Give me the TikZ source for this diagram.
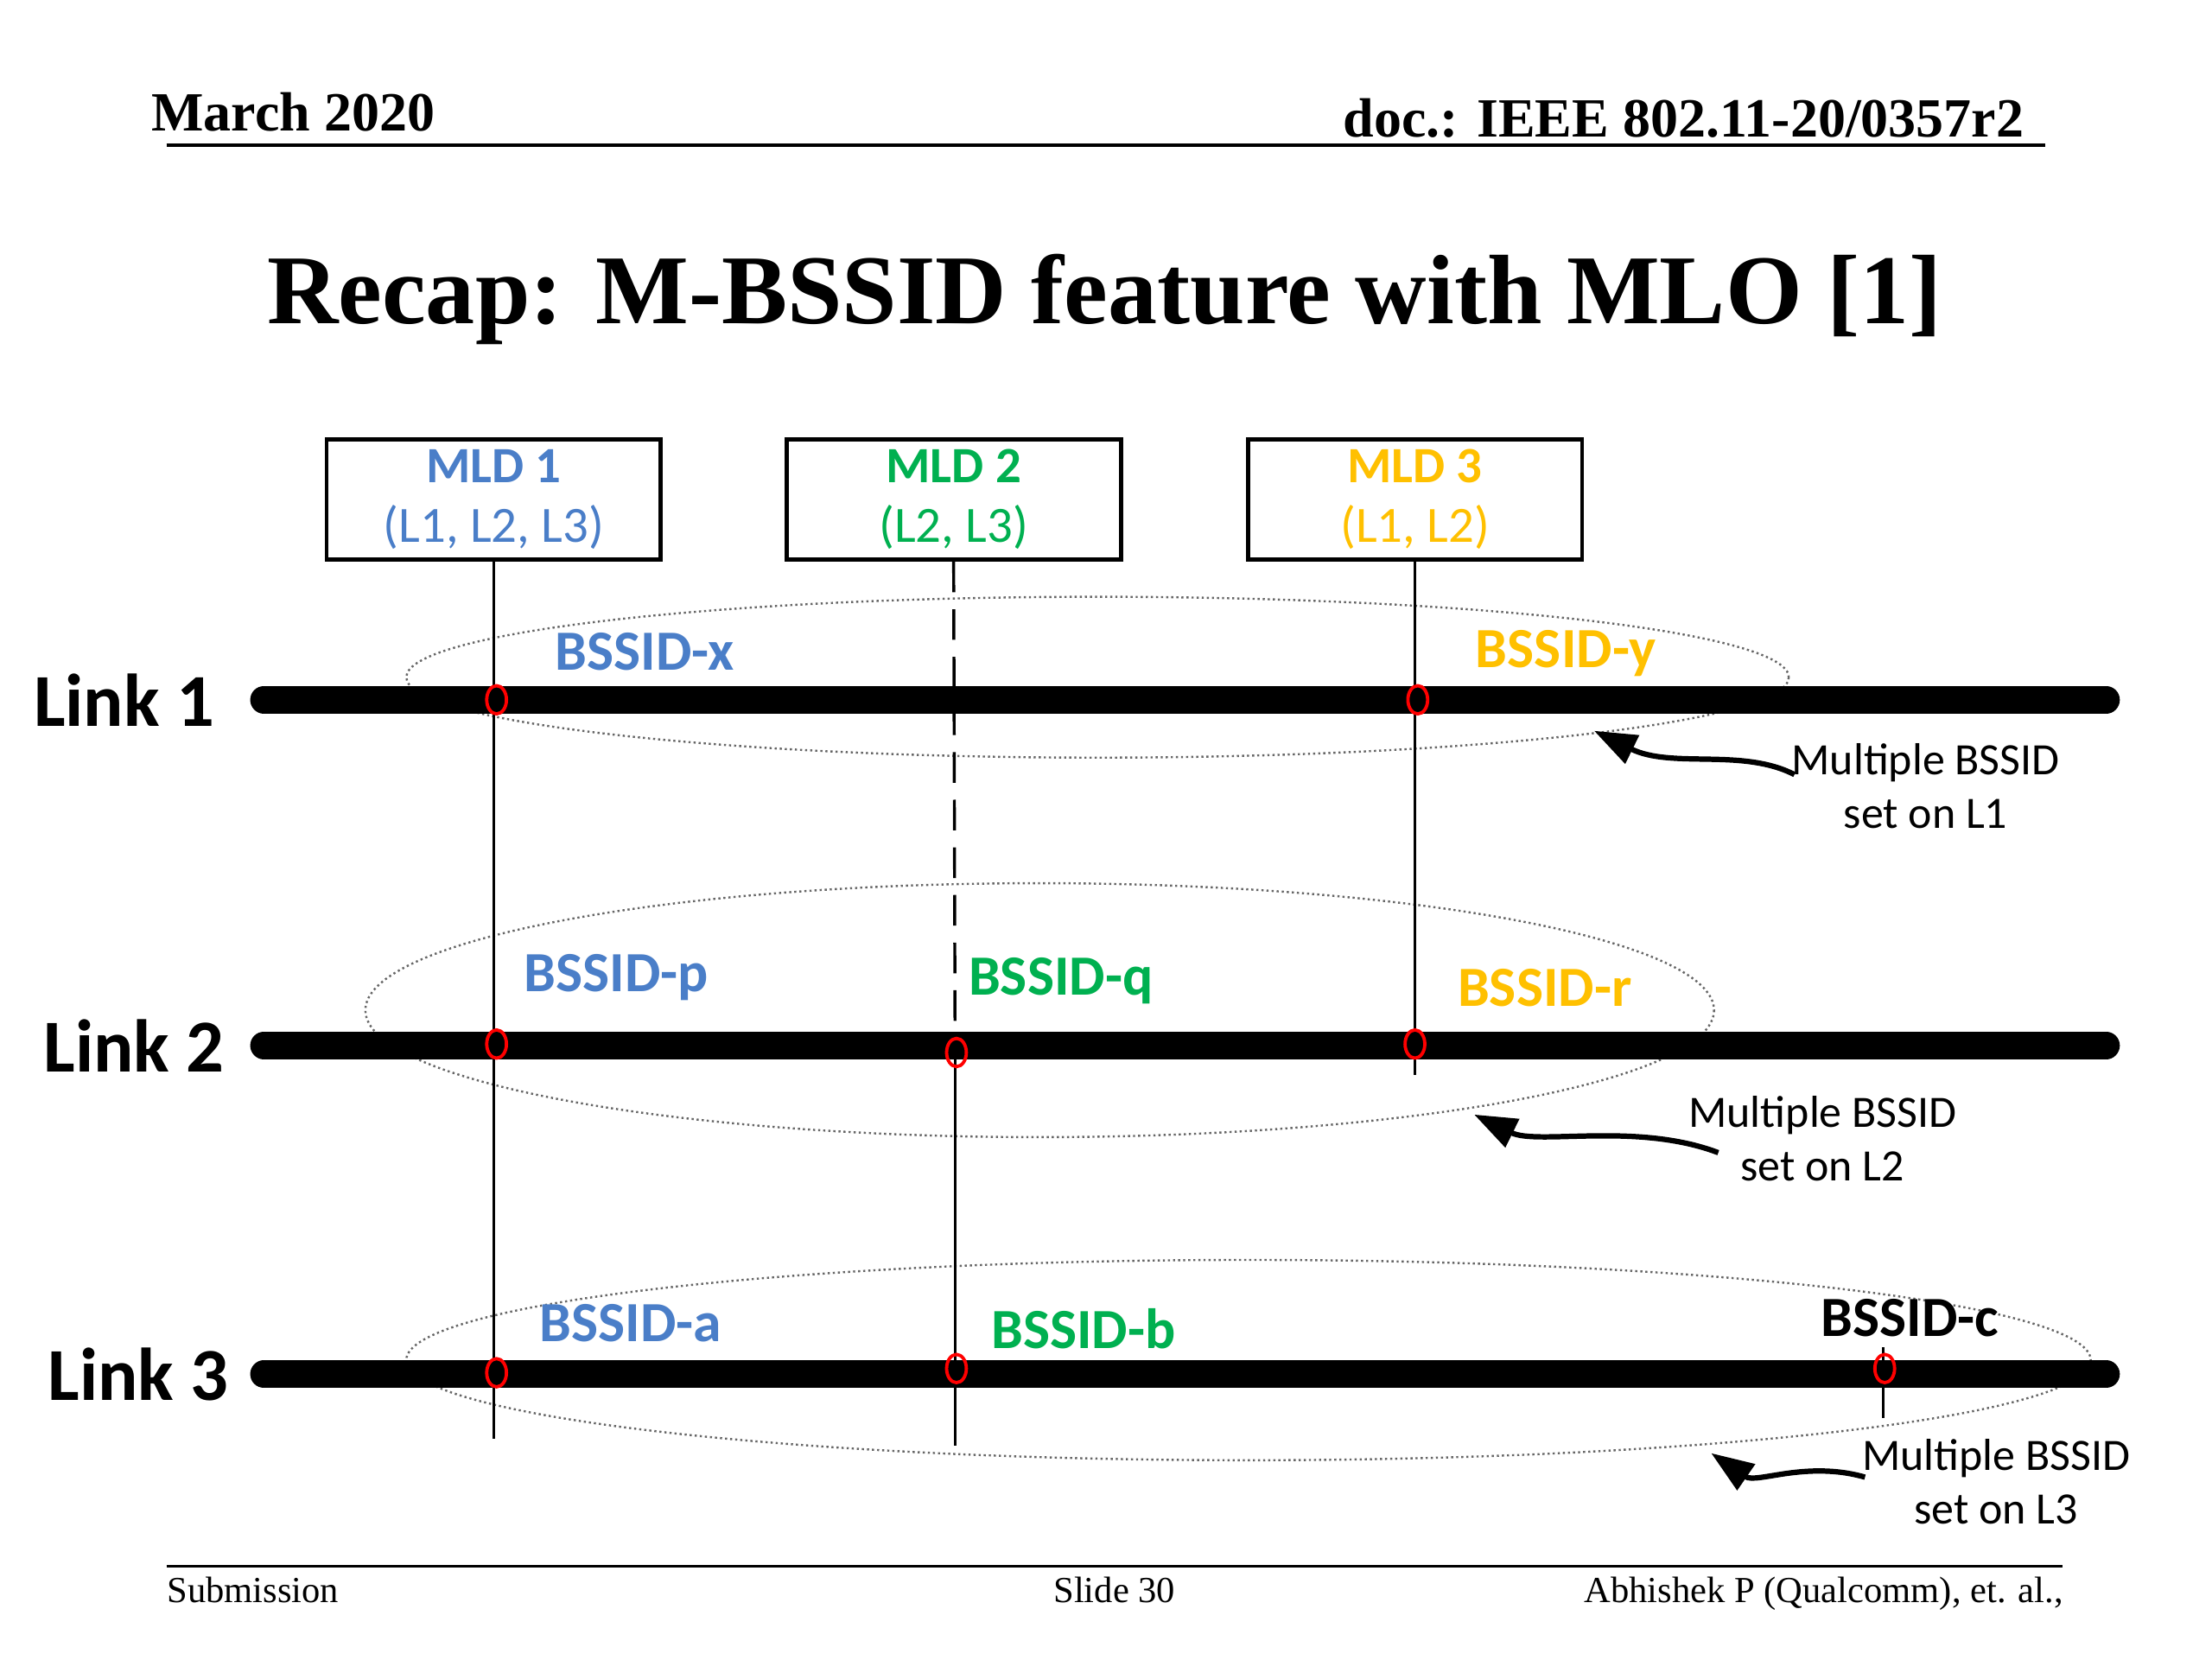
\documentclass[tikz,border=0pt]{standalone}
\usepackage{fontspec}
\setmainfont{Liberation Serif}
\newfontfamily\calibri{Carlito}
\usetikzlibrary{arrows.meta,positioning}
\definecolor{mldblue}{RGB}{74,126,200}
\definecolor{mldgreen}{RGB}{0,176,80}
\definecolor{mldorange}{RGB}{255,192,0}
\tikzset{
  hdr/.style={font=\bfseries\fontsize{18.5}{22}\selectfont,inner sep=0pt},
  ftr/.style={font=\fontsize{12.3}{15}\selectfont,inner sep=0pt},
  slidetitle/.style={font=\bfseries\fontsize{33}{40}\selectfont},
  mldbox/.style={draw,line width=1.4pt,minimum width=3.93cm,minimum height=1.37cm,
    align=center,font=\calibri\fontsize{17}{20}\selectfont},
  mldline/.style={line width=1pt},
  linkbar/.style={line width=0.32cm,line cap=round},
  linklabel/.style={font=\calibri\bfseries\fontsize{25}{30}\selectfont},
  bssid/.style={font=\calibri\bfseries\fontsize{19}{23}\selectfont},
  bssset/.style={densely dotted,gray!80!black,line width=0.7pt},
  hit/.style={draw=red,line width=1.1pt},
  note/.style={align=center,font=\calibri\fontsize{15}{18}\selectfont},
  callout/.style={line width=1.8pt,-{Triangle[length=0.5cm,width=0.36cm]}}
}
\begin{document}
\begin{tikzpicture}[x=0.016582cm,y=-0.016582cm]
\useasboundingbox (0,0) rectangle (1568,1176);
% header / footer
\node[hdr,anchor=base west] (date) at (107,93) {March 2020};
\node[hdr,anchor=base east] (doc) at (1435,97) {doc.: IEEE 802.11-20/0357r2};
\coordinate (hl) at (118,103); \coordinate (hr) at (1450,103);
\draw[line width=1pt] (hl) -- (hr);
\node[slidetitle] (ttl) at (783,212) {Recap: M-BSSID feature with MLO [1]};
\coordinate (fl) at (118,1110); \coordinate (fr) at (1462,1110);
\draw[line width=1pt] (fl) -- (fr);
\node[ftr,anchor=base west] (sub) at (118,1136) {Submission};
\node[ftr,anchor=base] (slide) at (790,1136) {Slide 30};
\node[ftr,anchor=base east] (auth) at (1463,1136) {Abhishek P (Qualcomm), et. al.,};

% multiple BSSID sets
\draw[bssset] (778,480) ellipse [x radius=490, y radius=57];
\draw[bssset] (737,716) ellipse [x radius=478, y radius=90];
\draw[bssset] (885,964) ellipse [x radius=597, y radius=71];

% MLDs
\node[mldbox,text=mldblue] (mld1) at (350,354) {\textbf{MLD 1}\\(L1, L2, L3)};
\node[mldbox,text=mldgreen] (mld2) at (676,354) {\textbf{MLD 2}\\(L2, L3)};
\node[mldbox,text=mldorange] (mld3) at (1003,354) {\textbf{MLD 3}\\(L1, L2)};
\coordinate (end1) at (350,1020);
\coordinate (mid2) at (677,741);
\coordinate (end2) at (677,1025);
\coordinate (end3) at (1003,762);
\draw[mldline] (mld1.south) -- (end1);
\draw[mldline,dash pattern=on 0.36cm off 0.2cm] (mld2.south) -- (mid2);
\draw[mldline] (mid2) -- (end2);
\draw[mldline] (mld3.south) -- (end3);
\coordinate (ctop) at (1335,955); \coordinate (cbot) at (1335,1005);
\draw[mldline] (ctop) -- (cbot);

% links
\foreach \n/\y/\lx in {1/496/88,2/741/95,3/974/98} {
  \coordinate (l\n w) at (187,\y);
  \coordinate (l\n e) at (1493,\y);
  \draw[linkbar] (l\n w) -- (l\n e);
  \node[linklabel] (link\n) at (\lx,\y) {Link \n};
}

% affiliated APs
\foreach \px/\py in {352/496,1005/496,352/740,678/746,1003/740,352/973,678/970,1336/970}
  \draw[hit] (\px,\py) ellipse [x radius=7, y radius=10];

\node[bssid,text=mldblue] (bx) at (457,462) {BSSID-x};
\node[bssid,text=mldorange] (by) at (1110,463) {BSSID-y};
\node[bssid,text=mldblue] (bp) at (437,693) {BSSID-p};
\node[bssid,text=mldgreen] (bq) at (752,695) {BSSID-q};
\node[bssid,text=mldorange] (br) at (1095,700) {BSSID-r};
\node[bssid,text=mldblue] (ba) at (447,938) {BSSID-a};
\node[bssid,text=mldgreen] (bb) at (768,942) {BSSID-b};
\node[bssid] (bc) at (1354,934) {BSSID-c};

% notes
\node[note] (note1) at (1365,557) {Multiple BSSID\\set on L1};
\node[note] (note2) at (1292,807) {Multiple BSSID\\set on L2};
\node[note] (note3) at (1415,1050) {Multiple BSSID\\set on L3};
\coordinate (tail1) at (1272,549); \coordinate (tip1) at (1130,518);
\coordinate (tail2) at (1218,817); \coordinate (tip2) at (1045,790);
\coordinate (tail3) at (1322,1047); \coordinate (tip3) at (1213,1030);
\draw[callout] (tail1) .. controls (1235,530) and (1185,545) .. (tip1);
\draw[callout] (tail2) .. controls (1160,795) and (1090,812) .. (tip2);
\draw[callout] (tail3) .. controls (1280,1035) and (1245,1052) .. (tip3);
\end{tikzpicture}
\end{document}
